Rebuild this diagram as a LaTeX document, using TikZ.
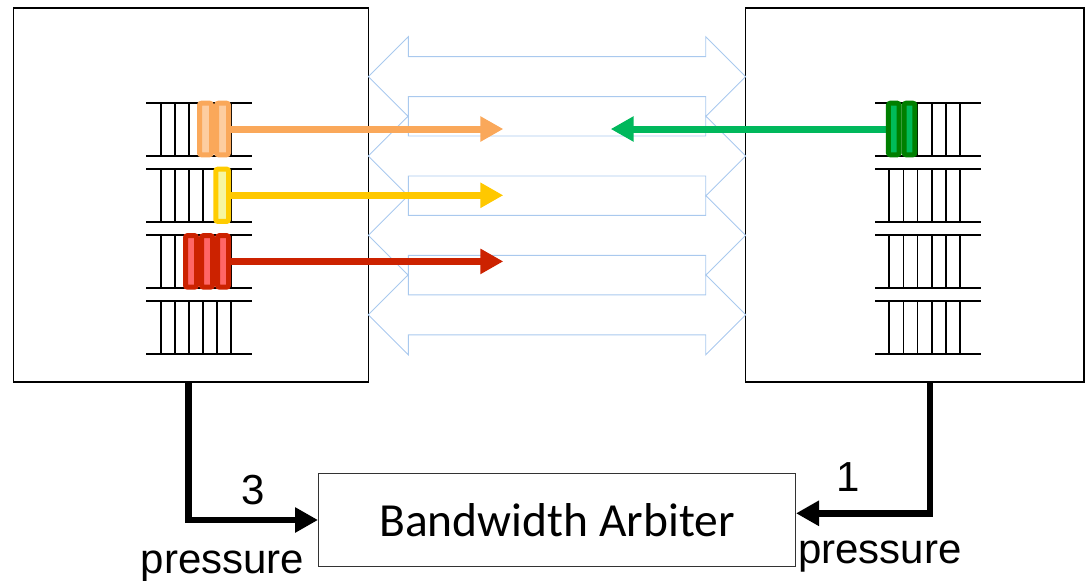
\documentclass[tikz,border=0pt]{standalone}
\usepackage{fontspec}
\setmainfont{Liberation Sans}
\newfontfamily\arbfont{Carlito}
\usetikzlibrary{arrows.meta}

\definecolor{chanblue}{HTML}{A9C9EE}
\definecolor{orgOut}{HTML}{FAA85A}
\definecolor{orgIn}{HTML}{FDCDA0}
\definecolor{ylwOut}{HTML}{FFCC00}
\definecolor{ylwIn}{HTML}{F6F6A0}
\definecolor{redOut}{HTML}{CC2200}
\definecolor{redIn}{HTML}{FF6666}
\definecolor{grnOut}{HTML}{007F00}
\definecolor{grnIn}{HTML}{00BB5A}
\definecolor{grnFlow}{HTML}{00B85C}
\definecolor{ylwFlow}{HTML}{FFC800}
\definecolor{boxgray}{HTML}{333333}

\begin{document}
\begin{tikzpicture}[x=1pt,y=-1pt,
  hostbox/.style={draw=black, line width=1.3pt, fill=white},
  chan/.style={draw=chanblue, line width=0.9pt, line join=miter},
  qline/.style={draw=black, line width=1.8pt},
  pkt/.style 2 args={draw=#1, fill=#2, line width=5pt, rounded corners=2pt,
    minimum width=12pt, minimum height=51.6pt, inner sep=0pt, outer sep=0pt},
  flow/.style={line width=7pt, -{Triangle[length=23pt,width=24pt]}},
  press/.style={draw=black, line width=6.5pt, line join=miter,
    -{Triangle[length=23pt,width=24pt]}},
  lbl/.style={font=\fontsize{42}{48}\selectfont, inner sep=0pt, anchor=base},
  arbiter/.style={draw=boxgray, line width=1pt, minimum width=477pt,
    minimum height=93pt, inner sep=0pt, font=\arbfont\fontsize{47.5}{54}\selectfont}
]
\useasboundingbox (0,0) rectangle (1085,581);

% two endpoints
\node[hostbox, minimum width=355pt, minimum height=374pt, inner sep=0pt, outer sep=0pt]
  (L) at (190.8,195) {};
\node[hostbox, minimum width=338.3pt, minimum height=374pt, inner sep=0pt, outer sep=0pt]
  (R) at (914.85,195) {};

% four bidirectional channels between the endpoints
\foreach \c in {76.6,156.0,235.4,314.8} {
  \draw[chan] (368.3,\c) -- (408.3,\c-40) -- (408.3,\c-20) -- (705.7,\c-20)
    -- (705.7,\c-40) -- (745.7,\c) -- (705.7,\c+40) -- (705.7,\c+20)
    -- (408.3,\c+20) -- (408.3,\c+40) -- cycle;
}

% queues (left and right)
\foreach \k in {0,1,2,3} {
  \pgfmathsetmacro{\qt}{102.7+66.1*\k}
  \pgfmathsetmacro{\qb}{\qt+53}
  \draw[qline] (146,\qt) -- (251.7,\qt) (146,\qb) -- (251.7,\qb);
  \draw[qline] (875,\qt) -- (980.7,\qt) (875,\qb) -- (980.7,\qb);
  \foreach \j in {0,...,5} {
    \draw[qline] (160.7+14.1*\j,\qt) -- (160.7+14.1*\j,\qb);
    \draw[qline] (889.3+14.1*\j,\qt) -- (889.3+14.1*\j,\qb);
  }
}

% flow targets
\coordinate (oT) at (503.3,129);
\coordinate (yT) at (503.3,195.3);
\coordinate (rT) at (503.3,261.4);
\coordinate (gT) at (610.7,129);

% packet anchors for the flows
\coordinate (oS) at (226,129);
\coordinate (yS) at (226,195.3);
\coordinate (rS) at (226,261.4);
\coordinate (gS) at (892,129);

\draw[flow, draw=orgOut, fill=orgOut] (oS) -- (oT);
\draw[flow, draw=ylwFlow, fill=ylwFlow] (yS) -- (yT);
\draw[flow, draw=redOut, fill=redOut] (rS) -- (rT);
\draw[flow, draw=grnFlow, fill=grnFlow] (gS) -- (gT);

% queued packets
\node[pkt={orgOut}{orgIn}] (o1) at (205.5,129) {};
\node[pkt={orgOut}{orgIn}] (o2) at (222.5,129) {};
\node[pkt={ylwOut}{ylwIn}, minimum height=52.3pt, minimum width=12.7pt] (y1) at (222.2,195.3) {};
\node[pkt={redOut}{redIn}, minimum width=11pt] (r1) at (191,261.4) {};
\node[pkt={redOut}{redIn}, minimum width=11pt] (r2) at (207,261.4) {};
\node[pkt={redOut}{redIn}, minimum width=11pt] (r3) at (223,261.4) {};
\node[pkt={grnOut}{grnIn}, minimum width=10.7pt] (g1) at (893.8,129) {};
\node[pkt={grnOut}{grnIn}, minimum width=10.7pt] (g2) at (909.5,129) {};

% arbiter and pressure signals
\node[arbiter] (A) at (557,520) {Bandwidth Arbiter};

\draw[press] ([xshift=175pt]L.south west) |- (A.west);
\draw[press] ([xshift=184.3pt]R.south west) |- ([yshift=6.7pt]A.east);

\node[lbl] (n3) at (253,504) {3};
\node[lbl] (p3) at (222.5,573.3) {pressure};
\node[lbl] (n1) at (848.3,491.7) {1};
\node[lbl] (p1) at (880,563.3) {pressure};
\end{tikzpicture}
\end{document}
